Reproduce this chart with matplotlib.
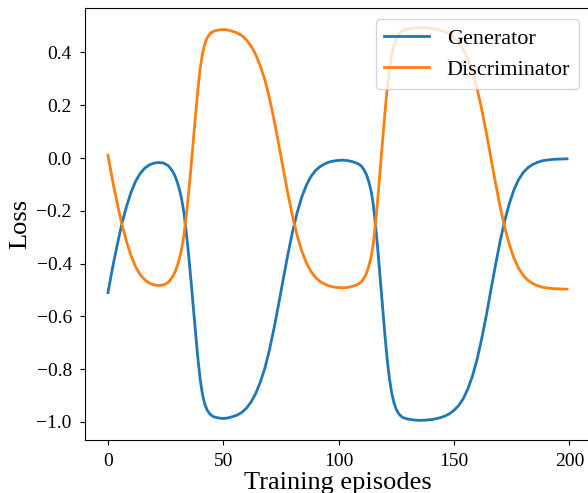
import matplotlib
matplotlib.use("Agg")
import matplotlib.pyplot as plt

plt.rcParams['font.family'] = ['Liberation Serif', 'DejaVu Serif']
plt.rcParams['mathtext.fontset'] = 'stix'

episodes = [0, 2, 4, 6, 8, 10, 12, 14, 16, 18, 20, 22, 24, 26, 27, 28, 29, 30, 31, 32, 33,
            34, 35, 36, 37, 38, 39, 40, 41, 42, 43, 44, 45, 46, 48, 50, 52, 54, 56, 58, 60,
            62, 64, 66, 68, 70, 72, 74, 76, 78, 80, 82, 84, 86, 88, 90, 92, 94, 96, 98, 100,
            102, 104, 106, 108, 109, 110, 111, 112, 113, 114, 115, 116, 117, 118, 119, 120,
            121, 122, 123, 124, 125, 126, 127, 128, 130, 132, 135, 138, 141, 144, 146, 148,
            150, 152, 154, 156, 158, 160, 162, 164, 166, 168, 170, 172, 174, 176, 178, 180,
            182, 184, 186, 188, 190, 193, 196, 199]

generator = [-0.51, -0.415, -0.33, -0.25, -0.185, -0.13, -0.088, -0.058, -0.038, -0.026,
             -0.019, -0.017, -0.019, -0.028, -0.038, -0.05, -0.067, -0.09, -0.12, -0.158,
             -0.212, -0.285, -0.37, -0.465, -0.565, -0.665, -0.76, -0.84, -0.897, -0.933,
             -0.955, -0.968, -0.976, -0.981, -0.985, -0.987, -0.985, -0.98, -0.974, -0.964,
             -0.948, -0.925, -0.893, -0.85, -0.797, -0.727, -0.645, -0.553, -0.458, -0.365,
             -0.28, -0.207, -0.148, -0.103, -0.07, -0.047, -0.032, -0.022, -0.015, -0.011,
             -0.009, -0.008, -0.01, -0.014, -0.02, -0.025, -0.032, -0.045, -0.062, -0.088,
             -0.122, -0.175, -0.255, -0.35, -0.455, -0.56, -0.665, -0.76, -0.835, -0.89,
             -0.928, -0.953, -0.968, -0.978, -0.984, -0.989, -0.992, -0.994, -0.993, -0.99,
             -0.984, -0.978, -0.969, -0.956, -0.938, -0.912, -0.875, -0.826, -0.763, -0.685,
             -0.597, -0.5, -0.405, -0.315, -0.237, -0.172, -0.12, -0.082, -0.055, -0.037,
             -0.025, -0.017, -0.011, -0.008, -0.005, -0.004, -0.003]

discriminator = [0.01, -0.085, -0.17, -0.25, -0.315, -0.37, -0.412, -0.442, -0.462, -0.474,
                 -0.481, -0.483, -0.481, -0.472, -0.462, -0.45, -0.433, -0.41, -0.38, -0.342,
                 -0.288, -0.215, -0.13, -0.035, 0.065, 0.165, 0.26, 0.34, 0.397, 0.433,
                 0.455, 0.468, 0.476, 0.481, 0.485, 0.487, 0.485, 0.48, 0.474, 0.464,
                 0.448, 0.425, 0.393, 0.35, 0.297, 0.227, 0.145, 0.053, -0.042, -0.135,
                 -0.22, -0.293, -0.352, -0.397, -0.43, -0.453, -0.468, -0.478, -0.485, -0.489,
                 -0.491, -0.492, -0.49, -0.486, -0.48, -0.475, -0.468, -0.455, -0.438, -0.412,
                 -0.378, -0.325, -0.245, -0.15, -0.045, 0.06, 0.165, 0.26, 0.335, 0.39,
                 0.428, 0.453, 0.468, 0.478, 0.484, 0.489, 0.492, 0.494, 0.493, 0.49,
                 0.484, 0.478, 0.469, 0.456, 0.438, 0.412, 0.375, 0.326, 0.263, 0.185,
                 0.097, 0.0, -0.095, -0.185, -0.263, -0.328, -0.38, -0.418, -0.445, -0.463,
                 -0.475, -0.483, -0.489, -0.492, -0.495, -0.496, -0.497]

fig = plt.figure(figsize=(5.88, 4.93), dpi=100)
ax = fig.add_axes([85/588, 53/493, 505/588, 432/493])

ax.plot(episodes, generator, color='#1f77b4', lw=2, label='Generator')
ax.plot(episodes, discriminator, color='#ff7f0e', lw=2, label='Discriminator')

ax.set_xticks([0, 50, 100, 150, 200])
ax.set_yticks([-1.0, -0.8, -0.6, -0.4, -0.2, 0.0, 0.2, 0.4])
ax.tick_params(labelsize=14, pad=6)
ax.set_xlabel('Training episodes', fontsize=19, labelpad=1)
ax.set_ylabel('Loss', fontsize=19, labelpad=4)
ax.legend(loc='upper right', fontsize=16)

fig.savefig('out.png', dpi=100)
